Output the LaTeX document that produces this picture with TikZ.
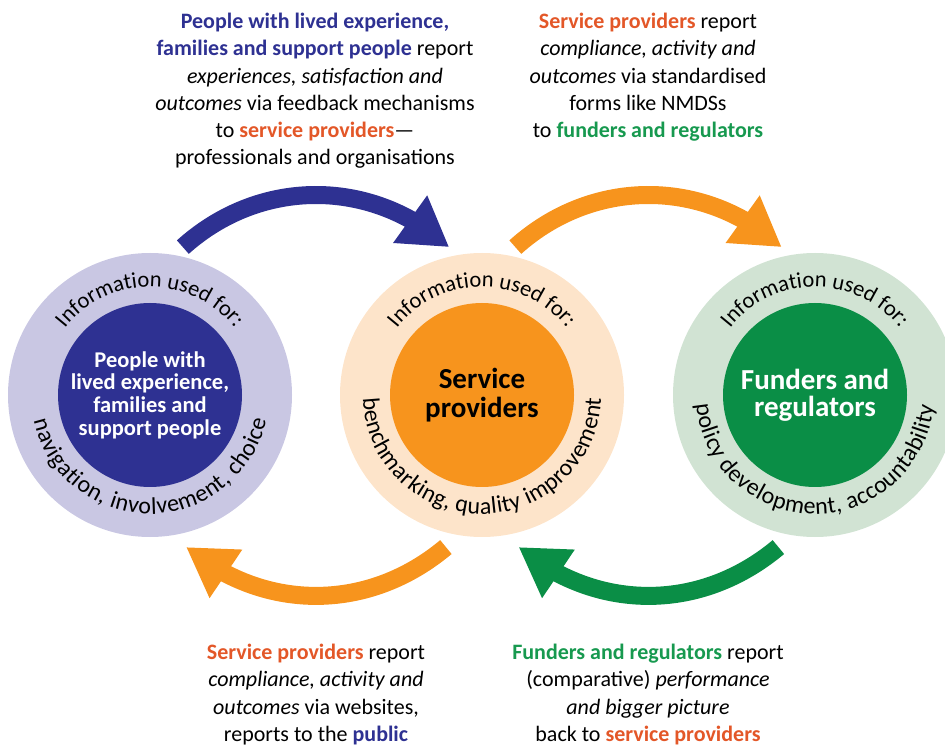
\documentclass[tikz,border=0pt]{standalone}
\usepackage{fontspec}
\setmainfont{Carlito}
\usetikzlibrary{arrows.meta, bending, decorations.text, positioning, calc}

\definecolor{navy}{HTML}{2E3192}
\definecolor{sporange}{HTML}{F7941D}
\definecolor{fgreen}{HTML}{0A8E46}
\definecolor{lilac}{HTML}{C9C7E3}
\definecolor{peach}{HTML}{FDE4CA}
\definecolor{sage}{HTML}{D1E3D3}
\definecolor{rust}{HTML}{E35728}
\definecolor{tgreen}{HTML}{17994F}

\newcommand{\agent}[2]{\textbf{\color{#1}#2}}
\newcommand{\ringfont}{\fontsize{24}{28}\selectfont}
\newcommand{\topfont}{\fontsize{22.5}{27}\selectfont}

\begin{document}
\begin{tikzpicture}[x=1pt,y=1pt,
    ring/.style={circle,minimum size=284pt,inner sep=0pt},
    hub/.style={circle,minimum size=184pt,inner sep=0pt,align=center},
    flow/.style={line width=18pt,-{Triangle[width=55pt,length=48pt]}},
    note/.style={align=center,inner sep=0pt,anchor=north,
                 font=\fontsize{22}{27.2}\selectfont},
    toptext/.style={decorate,decoration={text along path,
                 text align=center,text={|\topfont|Information used for:}}},
    arctext/.style={decorate,decoration={text along path,
                 text align=fit to path,text={|\ringfont|#1}}}]
  \useasboundingbox (0,0) rectangle (945,745);

  % the three circles
  \node[ring,fill=lilac] (P) at (150,350) {};
  \node[ring,fill=peach] (S) at (482,350) {};
  \node[ring,fill=sage]  (F) at (815,350) {};

  \node[hub,fill=navy,text=white,font=\bfseries\fontsize{22.5}{22.7}\selectfont] (p) at (P)
      {People with\\lived experience,\\families and\\support people};
  \node[hub,fill=sporange,font=\bfseries\fontsize{29}{29}\selectfont] (s) at (S)
      {Service\\providers};
  \node[hub,fill=fgreen,text=white,font=\bfseries\fontsize{29}{27}\selectfont] (f) at (F)
      {Funders and\\regulators};

  % text round the rings
  \path[toptext] ([shift={(150:108)}]P) arc[start angle=150,end angle=30,radius=108];
  \path[toptext] ([shift={(150:108)}]S) arc[start angle=150,end angle=30,radius=108];
  \path[toptext] ([shift={(150:108)}]F) arc[start angle=150,end angle=30,radius=108];
  \path[arctext={navigation, involvement, choice}] ([shift={(192.5:119)}]P) arc[start angle=192.5,end angle=348,radius=119];
  \path[arctext={benchmarking, quality improvement}] ([shift={(181.5:119)}]S) arc[start angle=181.5,end angle=358.5,radius=119];
  \path[arctext={policy development, accountability}] ([shift={(184.5:119)}]F) arc[start angle=184.5,end angle=355,radius=119];

  % arrows between the circles
  \coordinate (PS) at ($(P)!0.5!(S)$);
  \coordinate (SF) at ($(S)!0.5!(F)$);
  \coordinate (ps1) at ([shift={(132:199)}]PS);
  \coordinate (ps2) at ([shift={(48:199)}]PS);
  \coordinate (sp1) at ([shift={(310.5:200)}]PS);
  \coordinate (sp2) at ([shift={(229.5:200)}]PS);
  \coordinate (sf1) at ([shift={(132:199)}]SF);
  \coordinate (sf2) at ([shift={(48:199)}]SF);
  \coordinate (fs1) at ([shift={(310.5:200)}]SF);
  \coordinate (fs2) at ([shift={(229.5:200)}]SF);

  \draw[flow,navy]     (ps1) to[bend left=42] (ps2);
  \draw[flow,sporange] (sf1) to[bend left=42] (sf2);
  \draw[flow,sporange] (sp1) to[bend left=40] (sp2);
  \draw[flow,fgreen]   (fs1) to[bend left=40] (fs2);

  % reporting notes
  \node[note] (n1) at (315,732) {\agent{navy}{People with lived experience,}\\
      \agent{navy}{families and support people} report\\
      \textit{experiences, satisfaction and}\\
      \textit{outcomes} via feedback mechanisms\\
      to \agent{rust}{service providers}—\\
      professionals and organisations};
  \node[note] (n2) at (648,732) {\agent{rust}{Service providers} report\\
      \textit{compliance, activity and}\\
      \textit{outcomes} via standardised\\
      forms like NMDSs\\
      to \agent{tgreen}{funders and regulators}};
  \node[note] (n3) at (316,101) {\agent{rust}{Service providers} report\\
      \textit{compliance, activity and}\\
      \textit{outcomes} via websites,\\
      reports to the \agent{navy}{public}};
  \node[note] (n4) at (648,101) {\agent{tgreen}{Funders and regulators} report\\
      (comparative) \textit{performance}\\
      \textit{and bigger picture}\\
      back to \agent{rust}{service providers}};
\end{tikzpicture}
\end{document}
